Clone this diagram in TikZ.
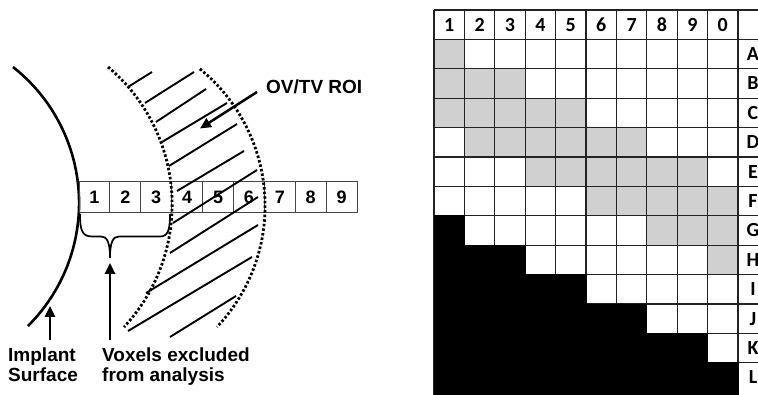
\documentclass[tikz,border=0pt]{standalone}
\usepackage{fontspec}
\setmainfont{Liberation Sans}
\newfontfamily\gridfont{Carlito}
\usetikzlibrary{arrows.meta}
\definecolor{cellgray}{RGB}{208,208,208}
\definecolor{gridline}{RGB}{35,35,35}
\definecolor{boxline}{RGB}{70,70,70}
\begin{document}
\begin{tikzpicture}[x=1pt,y=1pt,
  lbl/.style={font=\fontsize{19}{20}\selectfont\bfseries, inner sep=0pt, anchor=base west},
  voxel/.style={draw=boxline, line width=1pt, minimum width=30.9pt, minimum height=31pt, inner sep=0pt, font=\fontsize{18}{18}\selectfont\bfseries},
  gridtxt/.style={inner sep=0pt, font=\gridfont\bfseries\fontsize{20}{20}\selectfont},
  dotarc/.style={line width=2.8pt, dash pattern=on 2.5pt off 2.1pt},
  hatch/.style={line width=1.9pt},
  bigarrow/.style={line width=2.5pt, -{Triangle[length=11pt,width=10pt]}},
  gridln/.style={draw=gridline, line width=1.3pt}
]
\useasboundingbox (0,0) rectangle (758,-395);
% ---------- left diagram ----------
% implant surface
\draw[line width=2.6pt] (13,-67) arc[start angle=51.8, end angle=-45.2, radius=173.2];
% voxel boxes
\foreach \k in {1,...,9}
  \node[voxel] (v\k) at ({79+30.9*(\k-0.5)},-197.5) {\k};
% hatch lines
\foreach \a/\b/\c/\d in {128/87/152/72, 145/103/194/72, 156/122/206/89, 162/142/227/103,
  169/166/237/124, 177/191/244/151, 173/223/257/170, 170/253/258/197,
  146/293/258/225, 128/331/252/257, 170/337/236/296}
  \draw[hatch] (\a,-\b) -- (\c,-\d);
% dotted arcs
\draw[dotarc] (108.1,-67) arc[start angle=49.9, end angle=-42.9, radius=179.9];
\draw[dotarc] (199.9,-68.9) arc[start angle=50.9, end angle=-43.3, radius=176.5];
% brace
\coordinate (bracetip) at (110,-258);
\draw[line width=1.7pt] (80,-214) .. controls (80,-230) and (82,-236.5) .. (92,-236.5)
  -- (101,-236.5) .. controls (107,-236.5) and (110,-242) .. (bracetip)
  .. controls (110,-242) and (113,-236.5) .. (119,-236.5) -- (160,-236.5)
  .. controls (168,-236.5) and (170,-230) .. (170,-214);
% labels
\node[lbl] (ov) at (266,-93.3) {OV/TV ROI};
\node[lbl] (imp1) at (8,-361.7) {Implant};
\node[lbl] (imp2) at (8,-381.5) {Surface};
\node[lbl] (vox1) at (102,-361.7) {Voxels excluded};
\node[lbl] (vox2) at (102,-381.5) {from analysis};
% arrows
\coordinate (ovtail) at (257,-92);
\coordinate (ovtip) at (200,-128.5);
\coordinate (imptail) at (50,-340);
\coordinate (imptip) at (50,-306);
\coordinate (voxtail) at (110,-340);
\coordinate (voxtip) at (110,-263);
\draw[bigarrow] (ovtail) -- (ovtip);
\draw[bigarrow] (imptail) -- (imptip);
\draw[bigarrow] (voxtail) -- (voxtip);
% ---------- right grid ----------
\foreach \r/\a/\b in {1/1/1,2/1/3,3/1/5,4/2/7,5/4/9,6/6/10,7/8/10,8/10/10}
  \fill[cellgray] ({434+30.4*(\a-1)},{-(10+29.4*\r)}) rectangle ({434+30.4*\b},{-(10+29.4*(\r+1))});
\foreach \j in {0,...,12}
  \draw[gridln] (434,{-(10+29.4*\j)}) -- (770,{-(10+29.4*\j)});
\foreach \i in {0,...,11}
  \draw[gridln] ({434+30.4*\i},-10) -- ({434+30.4*\i},-397);
\filldraw[fill=black, draw=black, line width=0.8pt] (434,-215.8) -- (464.4,-215.8) -- (464.4,-245.2) -- (525.2,-245.2)
  -- (525.2,-274.6) -- (586,-274.6) -- (586,-304) -- (646.8,-304) -- (646.8,-333.4)
  -- (707.6,-333.4) -- (707.6,-362.8) -- (738,-362.8) -- (738,-397) -- (434,-397) -- cycle;
\foreach \i/\t in {1/1,2/2,3/3,4/4,5/5,6/6,7/7,8/8,9/9,10/0}
  \node[gridtxt] (h\i) at ({434+30.4*(\i-0.5)},-24.7) {\t};
\foreach \r/\t in {1/A,2/B,3/C,4/D,5/E,6/F,7/G,8/H,9/I,10/J,11/K,12/L}
  \node[gridtxt] (row\t) at (753,{-(10+29.4*(\r+0.5))}) {\t};
\end{tikzpicture}
\end{document}
